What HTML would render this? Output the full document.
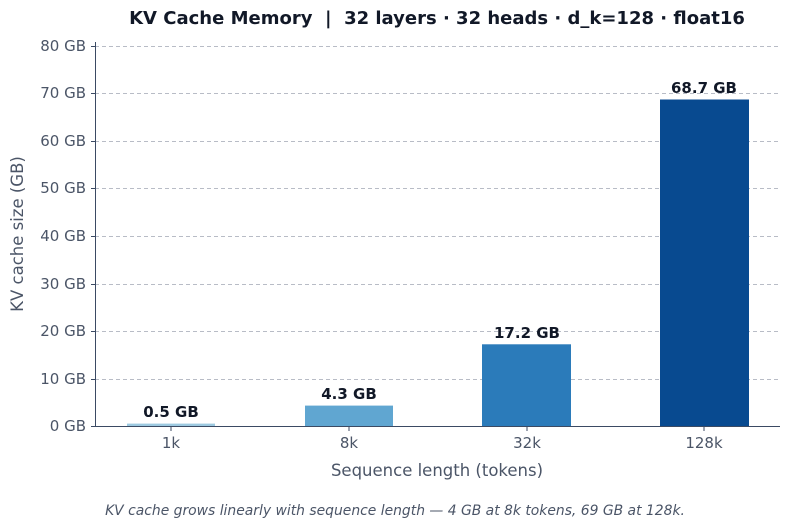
<!DOCTYPE html>
<html><head><meta charset="utf-8"><style>
html,body{margin:0;padding:0;background:#fff;}
svg{display:block;font-family:"DejaVu Sans","Liberation Sans",sans-serif;}
</style></head><body>
<svg width="790" height="528" viewBox="0 0 790 528" xmlns="http://www.w3.org/2000/svg">
<rect width="790" height="528" fill="#fff"/>
<text x="437" y="24" text-anchor="middle" font-size="18" font-weight="bold" fill="#111827" xml:space="preserve" style="white-space:pre">KV Cache Memory  |  32 layers · 32 heads · d_k=128 · float16</text>
<g stroke="#b8bcc6" stroke-width="1" stroke-dasharray="4,3">
<line x1="95" x2="780" y1="46.5" y2="46.5"/>
<line x1="95" x2="780" y1="93.5" y2="93.5"/>
<line x1="95" x2="780" y1="141.5" y2="141.5"/>
<line x1="95" x2="780" y1="188.5" y2="188.5"/>
<line x1="95" x2="780" y1="236.5" y2="236.5"/>
<line x1="95" x2="780" y1="284.5" y2="284.5"/>
<line x1="95" x2="780" y1="331.5" y2="331.5"/>
<line x1="95" x2="780" y1="379.5" y2="379.5"/>
</g>
<rect x="127" y="423.6" width="88" height="2.4" fill="#9ecae1"/>
<rect x="305" y="405.6" width="88" height="20.4" fill="#60a6d1"/>
<rect x="482" y="344.3" width="89" height="81.7" fill="#2b7bba"/>
<rect x="660" y="99.5" width="89" height="326.5" fill="#084a90"/>
<g font-size="15" font-weight="bold" fill="#111827" text-anchor="middle">
<text x="171" y="417">0.5 GB</text>
<text x="349" y="399">4.3 GB</text>
<text x="527" y="338">17.2 GB</text>
<text x="704" y="93">68.7 GB</text>
</g>
<g stroke="#3b4a63" stroke-width="1">
<line x1="95.5" x2="95.5" y1="42" y2="426"/>
<line x1="95" x2="780" y1="426.5" y2="426.5"/>
<line x1="91" x2="95" y1="46.5" y2="46.5"/><line x1="91" x2="95" y1="93.5" y2="93.5"/>
<line x1="91" x2="95" y1="141.5" y2="141.5"/><line x1="91" x2="95" y1="188.5" y2="188.5"/>
<line x1="91" x2="95" y1="236.5" y2="236.5"/><line x1="91" x2="95" y1="284.5" y2="284.5"/>
<line x1="91" x2="95" y1="331.5" y2="331.5"/><line x1="91" x2="95" y1="379.5" y2="379.5"/>
<line x1="91" x2="95" y1="426.5" y2="426.5"/>
<line x1="171" x2="171" y1="426" y2="431"/><line x1="349" x2="349" y1="426" y2="431"/>
<line x1="527" x2="527" y1="426" y2="431"/><line x1="704" x2="704" y1="426" y2="431"/>
</g>
<g font-size="15" fill="#4b5567" text-anchor="end">
<text x="86" y="51">80 GB</text><text x="86" y="98">70 GB</text>
<text x="86" y="146">60 GB</text><text x="86" y="193">50 GB</text>
<text x="86" y="241">40 GB</text><text x="86" y="289">30 GB</text>
<text x="86" y="336">20 GB</text><text x="86" y="384">10 GB</text>
<text x="86" y="431">0 GB</text>
</g>
<g font-size="15" fill="#4b5567" text-anchor="middle">
<text x="171" y="448">1k</text><text x="349" y="448">8k</text>
<text x="527" y="448">32k</text><text x="704" y="448">128k</text>
</g>
<text x="437" y="476" text-anchor="middle" font-size="16.5" fill="#4b5567">Sequence length (tokens)</text>
<text transform="translate(23,234) rotate(-90)" text-anchor="middle" font-size="16.5" fill="#4b5567">KV cache size (GB)</text>
<text x="395" y="515" text-anchor="middle" font-size="13.9" font-style="italic" fill="#4b5567">KV cache grows linearly with sequence length — 4 GB at 8k tokens, 69 GB at 128k.</text>
</svg>
</body></html>
